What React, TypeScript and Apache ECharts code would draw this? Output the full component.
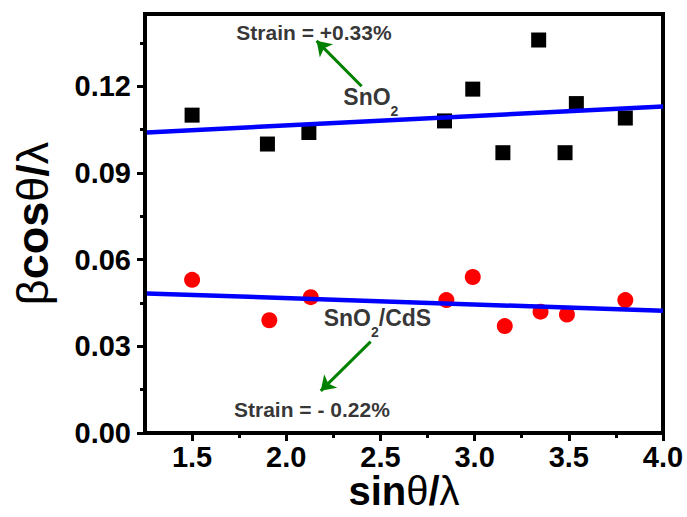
import React, { useEffect, useRef } from "react";
import * as echarts from "echarts";

// ---- data ----
const snO2X = [1.5, 1.9, 2.12, 2.84, 2.99, 3.15, 3.34, 3.48, 3.54, 3.8];
const snO2Y = [0.110, 0.100, 0.104, 0.108, 0.119, 0.097, 0.136, 0.097, 0.114, 0.109];
const cdsX = [1.5, 1.91, 2.13, 2.85, 2.99, 3.16, 3.35, 3.49, 3.8];
const cdsY = [0.053, 0.039, 0.047, 0.046, 0.054, 0.037, 0.042, 0.041, 0.046];
const fitX = [1.26, 4.0];
const fitSnO2 = [0.104, 0.113];
const fitCdS = [0.0483, 0.0423];

const xMajor = [1.5, 2.0, 2.5, 3.0, 3.5, 4.0];
const xMinor = [1.75, 2.25, 2.75, 3.25, 3.75];
const yMajor = [0, 0.03, 0.06, 0.09, 0.12];
const yMinor = [0.015, 0.045, 0.075, 0.105, 0.135];

const annoText = ["Strain = +0.33%", "{m|SnO}{s|2}", "{m|SnO}{s|2}{m|/CdS}", "Strain = - 0.22%"];
const annoX = [2.147, 2.449, 2.484, 2.136];
const annoY = [0.1387, 0.1163, 0.0398, 0.0082];

const arrowTail = [[2.40, 0.120], [2.448, 0.0316]];
const arrowHead = [[2.161, 0.1357], [2.183, 0.0146]];

const FONT = "'Liberation Sans', Arial, sans-serif";

export default function App() {
  const ref = useRef<HTMLDivElement>(null);
  useEffect(() => {
    if (!ref.current) return;
    const chart = echarts.init(ref.current, undefined, { renderer: "svg" });
    const xBase = { type: "value", min: 1.25, max: 4.0, gridIndex: 0 };
    const yBase = { type: "value", min: 0, max: 0.145, gridIndex: 0 };
    const option: any = {
      animation: false,
      backgroundColor: "#fff",
      grid: {
        left: 145, right: 24, top: 14, bottom: 84,
        containLabel: false, outerBoundsMode: "none",
        show: true, borderColor: "#000", borderWidth: 4, backgroundColor: "transparent",
      },
      xAxis: [
        {
          ...xBase,
          position: "bottom",
          splitLine: { show: false },
          axisLine: { show: true, lineStyle: { color: "#000", width: 4 } },
          axisTick: { show: true, customValues: xMajor, length: 8, lineStyle: { color: "#000", width: 3 } },
          axisLabel: {
            customValues: xMajor,
            formatter: (v: number) => v.toFixed(1),
            color: "#000", fontFamily: FONT, fontWeight: "bold", fontSize: 29, lineHeight: 28, margin: 10,
          },
          name: "{b|sin}{g|θ}{b|/}{g|λ}",
          nameLocation: "middle",
          nameGap: 40,
          nameMoveOverlap: false,
          nameTextStyle: {
            lineHeight: 36,
            rich: {
              b: { fontFamily: FONT, fontWeight: "bold", fontSize: 40, lineHeight: 36, color: "#000" },
              g: { fontFamily: FONT, fontWeight: "normal", fontSize: 40, lineHeight: 36, color: "#000" },
            },
          },
        },
        {
          ...xBase,
          position: "bottom",
          splitLine: { show: false },
          axisLine: { show: false },
          axisTick: { show: true, customValues: xMinor, length: 5, lineStyle: { color: "#000", width: 3 } },
          axisLabel: { show: false },
        },
      ],
      yAxis: [
        {
          ...yBase,
          position: "left",
          splitLine: { show: false },
          axisLine: { show: true, lineStyle: { color: "#000", width: 4 } },
          axisTick: { show: true, customValues: yMajor, length: 8, lineStyle: { color: "#000", width: 3 } },
          axisLabel: {
            customValues: yMajor,
            formatter: (v: number) => v.toFixed(2),
            color: "#000", fontFamily: FONT, fontWeight: "bold", fontSize: 29, margin: 14,
          },
          name: "{g|β}{b|cos}{g|θ}{b|/}{g|λ}",
          nameLocation: "middle",
          nameGap: 90,
          nameMoveOverlap: false,
          nameTextStyle: {
            rich: {
              b: { fontFamily: FONT, fontWeight: "bold", fontSize: 45, color: "#000" },
              g: { fontFamily: FONT, fontWeight: "normal", fontSize: 45, color: "#000" },
            },
          },
        },
        {
          ...yBase,
          position: "left",
          splitLine: { show: false },
          axisLine: { show: false },
          axisTick: { show: true, customValues: yMinor, length: 5, lineStyle: { color: "#000", width: 3 } },
          axisLabel: { show: false },
        },
      ],
      series: [
        {
          type: "line",
          data: fitX.map((x, i) => [x, fitSnO2[i]]),
          showSymbol: false,
          symbol: "none",
          lineStyle: { color: "#0000ff", width: 4.5 },
          z: 3,
        },
        {
          type: "line",
          data: fitX.map((x, i) => [x, fitCdS[i]]),
          showSymbol: false,
          symbol: "none",
          lineStyle: { color: "#0000ff", width: 4.5 },
          z: 3,
        },
        {
          type: "scatter",
          symbol: "rect",
          symbolSize: 15,
          itemStyle: { color: "#000", opacity: 1 },
          data: snO2X.map((x, i) => [x, snO2Y[i]]),
          z: 2,
        },
        {
          type: "scatter",
          symbol: "circle",
          symbolSize: 16,
          itemStyle: { color: "#ff0000", opacity: 1 },
          data: cdsX.map((x, i) => [x, cdsY[i]]),
          z: 2,
        },
        {
          type: "scatter",
          symbolSize: 0,
          silent: true,
          z: 5,
          data: annoX.map((x, i) => ({
            value: [x, annoY[i]],
            label: {
              show: true,
              position: [0, 0],
              align: "center",
              verticalAlign: "middle",
              formatter: annoText[i],
              color: "#000",
              fontFamily: FONT,
              fontWeight: "bold",
              fontSize: 21,
              rich: {
                m: { fontFamily: FONT, fontWeight: "bold", fontSize: 23, lineHeight: 28, color: "#000" },
                s: { fontFamily: FONT, fontWeight: "bold", fontSize: 14, lineHeight: 16, padding: [28, 0, 0, 0], color: "#000" },
              },
            },
          })),
          markLine: {
            silent: true,
            symbol: ["none", "arrow"],
            symbolSize: 14,
            label: { show: false },
            lineStyle: { color: "#008000", width: 3, type: "solid" },
            data: arrowTail.map((t, i) => [{ coord: t }, { coord: arrowHead[i] }]),
          },
        },
      ],
    };
    chart.setOption(option);
    return () => chart.dispose();
  }, []);
  return <div ref={ref} style={{ position: "fixed", left: 0, top: 0, width: 687, height: 517 }} />;
}
